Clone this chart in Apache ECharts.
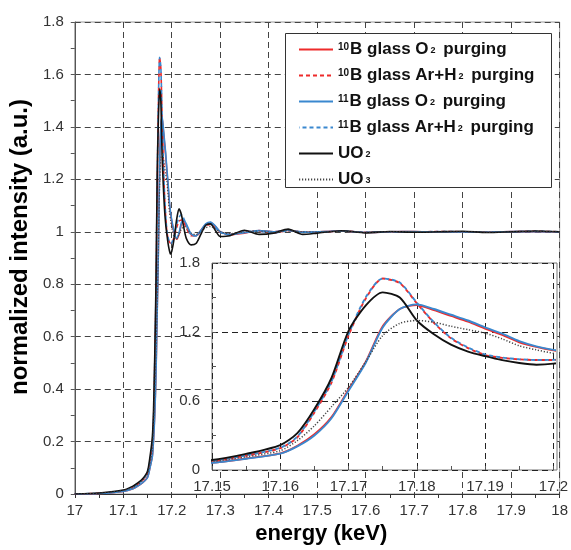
<!DOCTYPE html>
<html>
<head>
<meta charset="utf-8">
<script src="https://cdn.jsdelivr.net/npm/echarts@6/dist/echarts.min.js"></script>
<style>html,body{margin:0;padding:0;background:#fff}#c{width:571px;height:550px}</style>
</head>
<body>
<div id="c"></div>
<script>
// ---- data ----
const energy = [17.0, 17.05, 17.1, 17.12, 17.13, 17.14, 17.15, 17.155, 17.16, 17.1625, 17.165, 17.1675, 17.17, 17.1725, 17.175, 17.1775, 17.18, 17.1825, 17.185, 17.1875, 17.19, 17.1925, 17.195, 17.1975, 17.2, 17.205, 17.21, 17.215, 17.22, 17.225, 17.23, 17.24, 17.25, 17.26, 17.27, 17.28, 17.29, 17.3, 17.32, 17.35, 17.38, 17.41, 17.44, 17.47, 17.5, 17.55, 17.6, 17.65, 17.7, 17.75, 17.8, 17.85, 17.9, 17.95, 18.0];

const b10_O2 = [0.0, 0.002, 0.01, 0.02, 0.03, 0.043, 0.064, 0.1, 0.145, 0.21, 0.31, 0.46, 0.70, 0.94, 1.25, 1.40, 1.435, 1.39, 1.34, 1.29, 1.23, 1.175, 1.11, 1.07, 1.04, 0.995, 0.972, 0.99, 1.03, 1.04, 1.025, 0.99, 0.985, 1.005, 1.028, 1.035, 1.02, 1.0, 0.99, 0.995, 1.005, 1.0, 1.006, 0.998, 1.0, 1.003, 0.997, 1.0, 1.001, 0.999, 1.0, 0.998, 1.001, 1.0, 1.0];
const b10_ArH2 = [0.0, 0.003, 0.012, 0.025, 0.037, 0.053, 0.08, 0.125, 0.19, 0.285, 0.50, 0.76, 1.17, 1.49, 1.665, 1.625, 1.45, 1.28, 1.145, 1.06, 1.0, 0.975, 0.962, 0.956, 0.957, 0.98, 1.015, 1.04, 1.045, 1.035, 1.015, 0.985, 0.985, 1.0, 1.022, 1.028, 1.015, 0.998, 0.988, 1.0, 1.002, 0.996, 1.004, 1.0, 0.998, 1.003, 0.998, 1.0, 0.999, 1.001, 1.0, 0.998, 1.0, 1.002, 1.0];
const b11_O2 = [0.0, 0.002, 0.01, 0.02, 0.03, 0.043, 0.062, 0.098, 0.142, 0.205, 0.30, 0.45, 0.69, 0.93, 1.24, 1.40, 1.44, 1.40, 1.35, 1.30, 1.24, 1.185, 1.12, 1.075, 1.045, 1.0, 0.975, 0.995, 1.035, 1.045, 1.03, 0.992, 0.985, 1.005, 1.03, 1.037, 1.022, 1.0, 0.99, 0.996, 1.005, 1.0, 1.006, 0.998, 1.0, 1.003, 0.997, 1.0, 1.001, 0.999, 1.0, 0.998, 1.001, 1.0, 1.0];
const b11_ArH2 = [0.0, 0.003, 0.012, 0.025, 0.037, 0.054, 0.081, 0.127, 0.193, 0.29, 0.51, 0.77, 1.18, 1.50, 1.665, 1.63, 1.455, 1.285, 1.15, 1.065, 1.005, 0.978, 0.963, 0.957, 0.958, 0.985, 1.025, 1.055, 1.066, 1.05, 1.025, 0.988, 0.985, 1.0, 1.024, 1.03, 1.016, 0.998, 0.988, 1.0, 1.002, 0.996, 1.004, 1.0, 0.998, 1.003, 0.998, 1.0, 0.999, 1.001, 1.0, 0.998, 1.0, 1.002, 1.0];
const uo2 = [0.0, 0.004, 0.015, 0.03, 0.042, 0.058, 0.087, 0.14, 0.217, 0.32, 0.53, 0.80, 1.21, 1.43, 1.545, 1.50, 1.30, 1.18, 1.09, 1.03, 0.99, 0.955, 0.93, 0.915, 0.925, 0.975, 1.045, 1.088, 1.065, 1.015, 0.975, 0.95, 0.955, 0.99, 1.025, 1.03, 1.005, 0.982, 0.985, 1.006, 0.99, 0.995, 1.01, 0.99, 0.995, 1.004, 0.996, 1.001, 0.998, 1.0, 1.002, 0.997, 1.0, 1.003, 1.0];
const uo3 = [0.0, 0.003, 0.013, 0.025, 0.036, 0.052, 0.075, 0.115, 0.168, 0.255, 0.385, 0.55, 0.72, 0.94, 1.17, 1.275, 1.30, 1.285, 1.25, 1.22, 1.19, 1.14, 1.08, 1.045, 1.015, 0.98, 0.972, 0.99, 1.01, 1.02, 1.012, 0.995, 0.99, 1.0, 1.015, 1.02, 1.01, 1.0, 0.993, 1.0, 1.003, 0.998, 1.004, 1.0, 0.999, 1.002, 0.998, 1.0, 1.001, 0.999, 1.0, 0.999, 1.0, 1.001, 1.0];

const seriesNames = ['10B glass O2 purging', '10B glass Ar+H2 purging', '11B glass O2 purging', '11B glass Ar+H2 purging', 'UO2', 'UO3'];
const seriesValues = [b10_O2, b10_ArH2, b11_O2, b11_ArH2, uo2, uo3];

// ---- styles ----
const RED = '#ee2b2b', BLUE = '#3a88cf';
const styles = [
  {color: RED, type: 'solid', width: 1.6, off: 0},
  {color: RED, type: [4, 3], width: 1.6, off: 0},
  {color: BLUE, type: 'solid', width: 1.6, off: 0},
  {color: BLUE, type: [4, 3], width: 1.6, off: 3.5},
  {color: '#111111', type: 'solid', width: 1.6, off: 0},
  {color: '#444444', type: [1.2, 1.8], width: 1.2, off: 0}
];

const FONT = '"Liberation Sans", Arial, sans-serif';
const series = [];
[0, 1].forEach(gi => {
  seriesNames.forEach((n, i) => {
    const st = styles[i];
    series.push({
      name: n, type: 'line', xAxisIndex: gi, yAxisIndex: gi,
      data: energy.map((e, k) => [e, seriesValues[i][k]]),
      showSymbol: false, symbol: 'none', smooth: 0.25, clip: true,
      z: gi === 0 ? 2 : 5,
      lineStyle: {color: st.color, type: st.type, width: gi === 0 ? st.width : st.width + 0.3, dashOffset: st.off},
      itemStyle: {color: st.color},
      emphasis: {disabled: true}, animation: false
    });
  });
});

const inset = {left: 212, top: 263, width: 345, height: 207};

const chart = echarts.init(document.getElementById('c'), null, {renderer: 'canvas'});
chart.setOption({
  animation: false,
  backgroundColor: '#fff',
  grid: [
    {left: 73, top: 22, width: 493, height: 481, show: true, borderColor: '#999', borderWidth: 1, backgroundColor: 'transparent'},
    {left: inset.left, top: inset.top, width: inset.width, height: inset.height, show: false}
  ],
  xAxis: [
    {type: 'value', gridIndex: 0, min: 17, max: 18, interval: 0.1,
     name: 'energy (keV)', nameLocation: 'middle', nameGap: 29,
     nameTextStyle: {fontFamily: FONT, fontSize: 22, fontWeight: 'bold', color: '#000', padding: [0, 0, 0, 8]},
     axisLine: {show: true, lineStyle: {color: '#333', width: 1}},
     axisTick: {show: true, length: 4, lineStyle: {color: '#333'}},
     minorTick: {show: true, splitNumber: 2, length: 4, lineStyle: {color: '#333'}},
     axisLabel: {fontFamily: FONT, fontSize: 15, color: '#333', margin: 9},
     splitLine: {show: true, lineStyle: {color: '#444', type: [6, 4], width: 1}}},
    {type: 'value', gridIndex: 1, min: 17.15, max: 17.2, interval: 0.01, z: 4,
     axisLine: {show: false},
     axisTick: {show: true, inside: true, length: 4, lineStyle: {color: '#555'}},
     minorTick: {show: true, splitNumber: 2, length: 4, lineStyle: {color: '#555'}},
     axisLabel: {fontFamily: FONT, fontSize: 15, color: '#333', margin: 9, showMinLabel: true, showMaxLabel: true},
     splitLine: {show: true, lineStyle: {color: '#222', type: [6, 4], width: 1}}}
  ],
  yAxis: [
    {type: 'value', gridIndex: 0, min: 0, max: 1.8, interval: 0.2,
     name: 'normalized intensity (a.u.)', nameLocation: 'middle', nameGap: 36,
     nameTextStyle: {fontFamily: FONT, fontSize: 24, fontWeight: 'bold', color: '#000', padding: [0, 0, 0, 22]},
     axisLine: {show: true, lineStyle: {color: '#555', width: 1}},
     axisTick: {show: true, length: 4, lineStyle: {color: '#555'}},
     minorTick: {show: true, splitNumber: 2, length: 4, lineStyle: {color: '#555'}},
     axisLabel: {fontFamily: FONT, fontSize: 15, color: '#333', margin: 11},
     splitLine: {show: true, lineStyle: {color: '#444', type: [6, 4], width: 1}}},
    {type: 'value', gridIndex: 1, min: 0, max: 1.8, interval: 0.6, z: 4,
     axisLine: {show: false},
     axisTick: {show: true, inside: true, length: 4, lineStyle: {color: '#555'}},
     minorTick: {show: true, splitNumber: 2, length: 4, lineStyle: {color: '#555'}},
     axisLabel: {fontFamily: FONT, fontSize: 15, color: '#333', margin: 12},
     splitLine: {show: true, lineStyle: {color: '#222', type: [6, 4], width: 1}}}
  ],
  graphic: [
    {type: 'rect', z: 3, silent: true,
     shape: {x: inset.left, y: inset.top, width: inset.width, height: inset.height},
     style: {fill: '#fff', stroke: '#777', lineWidth: 1}},
    {type: 'rect', z: 6, silent: true,
     shape: {x: 285.5, y: 33.5, width: 266, height: 154},
     style: {fill: '#fff', stroke: '#333', lineWidth: 1}}
  ],
  legend: {
    z: 10, orient: 'vertical', left: 298, top: 41, padding: 0,
    itemWidth: 34, itemHeight: 14, itemGap: 9, itemTextGap: 4,
    selectedMode: false,
    itemStyle: {opacity: 0, color: 'transparent', borderWidth: 0},
    data: seriesNames,
    formatter: function (name) {
      const m = name.match(/^(\d+)B glass (O|Ar\+H)2 purging$/);
      if (m) return '{sup|' + m[1] + '}{b|B glass ' + m[2] + '}{sub|2}{b| purging}';
      return '{b|UO}{sub|' + name.slice(2) + '}';
    },
    textStyle: {
      fontFamily: FONT, fontSize: 17, fontWeight: 'bold', color: '#111',
      rich: {
        b: {fontFamily: FONT, fontSize: 17, fontWeight: 'bold', color: '#111', lineHeight: 14},
        sup: {fontFamily: FONT, fontSize: 10, fontWeight: 'bold', color: '#111', verticalAlign: 'top', lineHeight: 14, padding: [0, 1, 0, 0]},
        sub: {fontFamily: FONT, fontSize: 9, fontWeight: 'bold', color: '#111', verticalAlign: 'middle', lineHeight: 14, padding: [3, 3, 0, 2]}
      }
    }
  },
  series: series
});
</script>
</body>
</html>
